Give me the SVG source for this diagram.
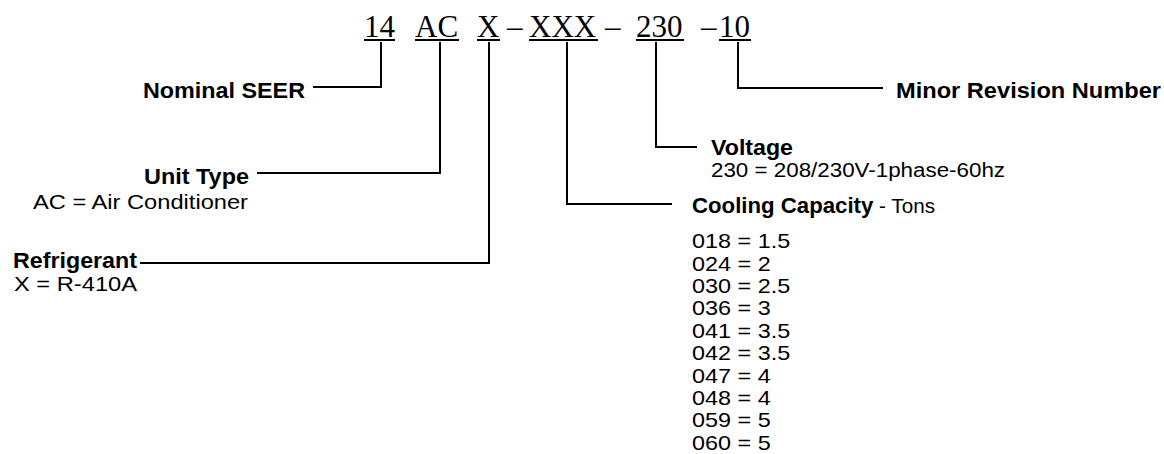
<svg xmlns="http://www.w3.org/2000/svg" width="1164" height="454" viewBox="0 0 1164 454">
<style>
.code{font-family:"Liberation Serif","Times New Roman",serif;font-size:31px;fill:#000}
.b{font-family:"Liberation Sans",Arial,sans-serif;font-size:21.5px;font-weight:bold;fill:#000}
.r{font-family:"Liberation Sans",Arial,sans-serif;font-size:20px;fill:#000}
.ul{stroke:#000;stroke-width:2;fill:none}
.conn path{stroke:#000;stroke-width:2;fill:none}
</style>
<rect width="1164" height="454" fill="#fff"/>
<g id="code">
<text class="code" x="364" y="37">14</text>
<text class="code" x="415" y="37">AC</text>
<text class="code" x="477" y="37">X</text>
<text class="code" x="507" y="37">–</text>
<text class="code" x="529" y="37">XXX</text>
<text class="code" x="605" y="37">–</text>
<text class="code" x="636" y="37">230</text>
<text class="code" x="701" y="37">–</text>
<text class="code" x="719" y="37">10</text>
<line class="ul" x1="364" y1="40" x2="395" y2="40"/>
<line class="ul" x1="415" y1="40" x2="459" y2="40"/>
<line class="ul" x1="477" y1="40" x2="500" y2="40"/>
<line class="ul" x1="529" y1="40" x2="598" y2="40"/>
<line class="ul" x1="636" y1="40" x2="684" y2="40"/>
<line class="ul" x1="719" y1="40" x2="751" y2="40"/>
</g>
<g class="conn" id="connectors">
<path d="M381 42 V87 H313"/>
<path d="M440 42 V173 H257"/>
<path d="M489 42 V263 H140"/>
<path d="M567 42 V204 H672"/>
<path d="M656 42 V147 H697"/>
<path d="M738 42 V88 H883"/>
</g>
<g id="nominal-seer">
<text class="b" x="143" y="98" textLength="162" lengthAdjust="spacingAndGlyphs">Nominal SEER</text>
</g>
<g id="unit-type">
<text class="b" x="144" y="184" textLength="105" lengthAdjust="spacingAndGlyphs">Unit Type</text>
<text class="r" x="33" y="209" textLength="215" lengthAdjust="spacingAndGlyphs">AC = Air Conditioner</text>
</g>
<g id="refrigerant">
<text class="b" x="13" y="268" textLength="124" lengthAdjust="spacingAndGlyphs">Refrigerant</text>
<text class="r" x="14" y="291" textLength="123" lengthAdjust="spacingAndGlyphs">X = R-410A</text>
</g>
<g id="voltage">
<text class="b" x="711" y="155" textLength="82" lengthAdjust="spacingAndGlyphs">Voltage</text>
<text class="r" x="711" y="177" font-size="19" textLength="294" lengthAdjust="spacingAndGlyphs">230 = 208/230V-1phase-60hz</text>
</g>
<g id="cooling-capacity">
<text class="b" x="692" y="213" textLength="243" lengthAdjust="spacingAndGlyphs">Cooling Capacity<tspan font-family="Liberation Sans, Arial, sans-serif" font-size="20" font-weight="normal"> - Tons</tspan></text>
<g transform="translate(692,0) scale(1.17,1)">
<text class="r" x="0" y="248.3">018 = 1.5</text>
<text class="r" x="0" y="270.7">024 = 2</text>
<text class="r" x="0" y="293.1">030 = 2.5</text>
<text class="r" x="0" y="315.5">036 = 3</text>
<text class="r" x="0" y="337.9">041 = 3.5</text>
<text class="r" x="0" y="360.3">042 = 3.5</text>
<text class="r" x="0" y="382.7">047 = 4</text>
<text class="r" x="0" y="405.1">048 = 4</text>
<text class="r" x="0" y="427.5">059 = 5</text>
<text class="r" x="0" y="449.9">060 = 5</text>
</g>
</g>
<g id="minor-revision">
<text class="b" x="896" y="98" textLength="265" lengthAdjust="spacingAndGlyphs">Minor Revision Number</text>
</g>
</svg>
